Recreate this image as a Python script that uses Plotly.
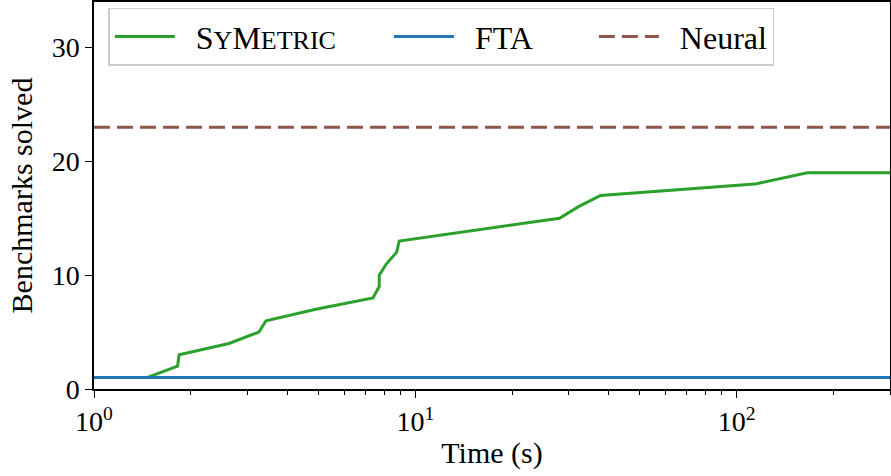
import plotly.graph_objects as go
import numpy as np

# SyMetric cumulative benchmarks solved vs time (s)
sym_time = [1.46, 1.82, 1.84, 2.63, 3.26, 3.43, 4.9, 7.38, 7.72, 7.72, 8.13, 8.74, 8.91, 16.0, 28.1, 32.1, 37.7, 113.8, 166.0, 300.0]
sym_solved = [1, 2, 3, 4, 5, 6, 7, 8, 9, 10, 11, 12, 13, 14, 15, 16, 17, 18, 19, 19]

fta_time = [1.0, 300.0]
fta_solved = [1, 1]

neural_time = [1.0, 300.0]
neural_solved = [23, 23]

x_major = [1, 10, 100]
x_major_text = ["10<sup>0</sup>", "10<sup>1</sup>", "10<sup>2</sup>"]
x_minor = [2, 3, 4, 5, 6, 7, 8, 9, 20, 30, 40, 50, 60, 70, 80, 90, 200, 300]
y_ticks = [0, 10, 20, 30]

FONT = "Liberation Serif"
FS = 28
FL = 30
FLEG = 32
NB = "\u00a0"

sym_name = (NB * 2 + "S<span style='font-size:26px'>Y</span>M"
            "<span style='font-size:26px'>ETRIC</span>" + NB * 6)
fta_name = NB * 2 + "FTA" + NB * 7
neural_name = NB * 2 + "Neural"

fig = go.Figure()
fig.add_trace(go.Scatter(x=sym_time, y=sym_solved, mode="lines", name=sym_name,
                         line=dict(color="#2ca02c", width=3)))
fig.add_trace(go.Scatter(x=fta_time, y=fta_solved, mode="lines", name=fta_name,
                         line=dict(color="#1f77b4", width=3)))
fig.add_trace(go.Scatter(x=neural_time, y=neural_solved, mode="lines", name=neural_name,
                         line=dict(color="#8c564b", width=3, dash="16px,7px")))

fig.update_layout(
    width=891, height=476,
    margin=dict(l=94, r=1, t=2, b=87, autoexpand=False),
    paper_bgcolor="white", plot_bgcolor="white",
    font=dict(family=FONT, size=FS, color="black"),
    showlegend=True,
    legend=dict(
        orientation="h", x=0.018, y=0.985, xanchor="left", yanchor="top",
        bgcolor="rgba(255,255,255,0.8)", bordercolor="#cccccc", borderwidth=1.5,
        font=dict(family=FONT, size=FLEG),
        itemwidth=60,
        entrywidth=0,
    ),
    xaxis=dict(
        type="log", range=[0, np.log10(300)], automargin=False,
        tickvals=x_major, ticktext=x_major_text,
        ticks="outside", ticklen=7, tickwidth=1.2, tickcolor="black",
        minor=dict(tickvals=x_minor, ticks="outside", ticklen=4, tickwidth=1, tickcolor="black", showgrid=False),
        showgrid=False, zeroline=False,
        showline=True, linecolor="black", linewidth=1.5, mirror=True,
        title=dict(text="Time (s)", font=dict(family=FONT, size=FL), standoff=6),
        tickfont=dict(family=FONT, size=FS),
    ),
    yaxis=dict(
        range=[0, 34], tickvals=y_ticks, automargin=False,
        ticks="outside", ticklen=7, tickwidth=1.2, tickcolor="black",
        showgrid=False, zeroline=False,
        showline=True, linecolor="black", linewidth=1.5, mirror=True,
        title=dict(text="Benchmarks solved", font=dict(family=FONT, size=FL), standoff=10),
        tickfont=dict(family=FONT, size=FS),
    ),
)

fig.write_html("out.html", config={"displayModeBar": False},
               post_script="document.body.style.margin='0';")
